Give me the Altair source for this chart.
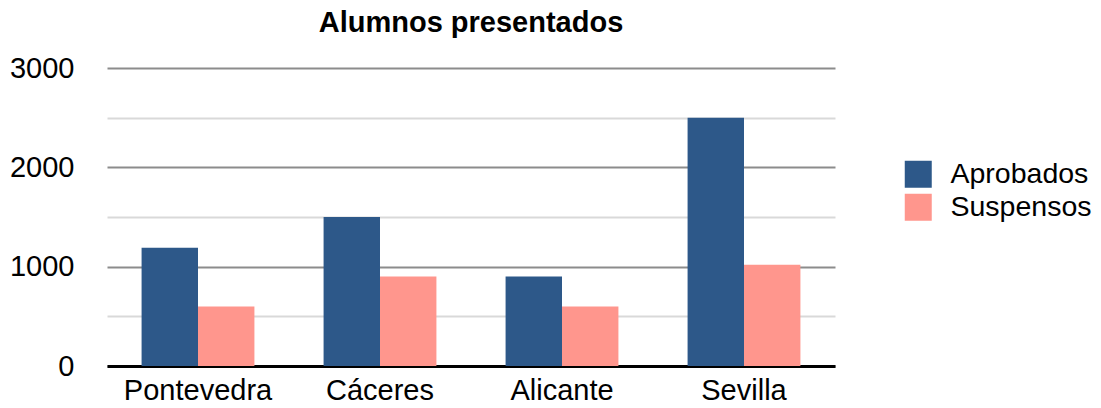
import altair as alt
import pandas as pd

categories = ["Pontevedra", "Cáceres", "Alicante", "Sevilla"]
aprobados = [1190, 1500, 900, 2500]
suspensos = [600, 900, 600, 1020]
series = ["Aprobados", "Suspensos"]
colors = ["#2d5889", "#ff968d"]
y_ticks = [0, 500, 1000, 1500, 2000, 2500, 3000]

rows = []
for i, c in enumerate(categories):
    rows.append({"cat": c, "serie": series[0], "valor": aprobados[i]})
    rows.append({"cat": c, "serie": series[1], "valor": suspensos[i]})
df = pd.DataFrame(rows)

FONT = "Liberation Sans"
FS = 29

chart = alt.Chart(df).mark_bar().encode(
    x=alt.X("cat:N", sort=categories, title=None,
            scale=alt.Scale(paddingInner=0.38, paddingOuter=0.19),
            axis=alt.Axis(labelAngle=0, ticks=False, domainColor="#000000",
                          domainWidth=3, labelFontSize=FS, labelPadding=10,
                          labelColor="#000000", labelFont=FONT)),
    xOffset=alt.XOffset("serie:N", sort=series, scale=alt.Scale(paddingInner=0, paddingOuter=0)),
    y=alt.Y("valor:Q", title=None,
            scale=alt.Scale(domain=[0, 3000], nice=False),
            axis=alt.Axis(values=y_ticks, domain=False, ticks=False,
                          labelExpr="datum.value % 1000 === 0 ? datum.label : ''",
                          labelFontSize=FS, labelColor="#000000", labelFont=FONT,
                          labelPadding=33, format="d",
                          gridWidth=2,
                          gridColor={"condition": {"test": "datum.value % 1000 === 0", "value": "#8c8c8c"}, "value": "#d9d9d9"})),
    color=alt.Color("serie:N", sort=series,
                    scale=alt.Scale(domain=series, range=colors),
                    legend=alt.Legend(title=None, orient="none", legendX=797, legendY=92,
                                      symbolType="square", symbolSize=729,
                                      symbolStrokeWidth=0, labelFontSize=28.5,
                                      labelFont=FONT, labelColor="#000000",
                                      labelOffset=18, rowPadding=4)),
).properties(
    width=728,
    height=298,
    title=alt.Title("Alumnos presentados", fontSize=FS, font=FONT, fontWeight="bold",
                    color="#000000", anchor="middle", offset=16),
    autosize=alt.AutoSizeParams(type="none"),
    padding={"left": 99, "top": 60, "right": 258, "bottom": 40},
).configure_view(stroke=None)

chart.save("out.html", embed_options={"renderer": "svg", "actions": False})
